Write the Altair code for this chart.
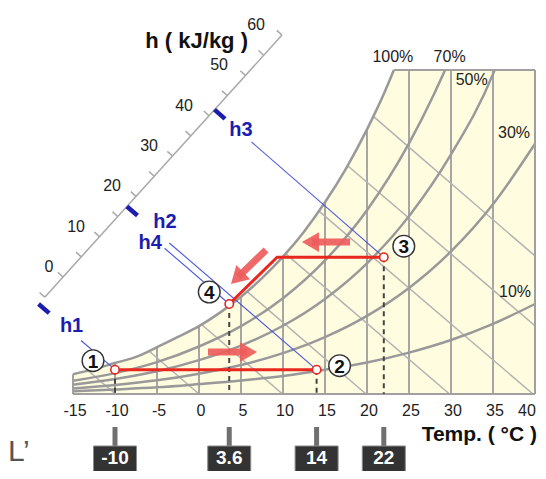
import math
import numpy as np
import pandas as pd
import altair as alt

# ---------------- values ----------------
temp_ticks = [-15, -10, -5, 0, 5, 10, 15, 20, 25, 30, 35, 40]
grid_temps = [-10, -5, 0, 5, 10, 15, 20, 25, 30, 35]
T_LEFT, T_RIGHT, W_TOP = -15, 40, 18.0          # chart box (deg C, g/kg)

# relative-humidity curves: temperature (deg C) -> humidity ratio (g/kg)
sat_T = [-15, -12.5, -10, -7.5, -5, -2.5, 0, 2.5, 5, 7.5, 10, 12.5, 15, 17.5, 20, 21, 22, 23.2]
sat_w = [1.10, 1.38, 1.72, 2.06, 2.60, 3.17, 3.77, 4.52, 5.40, 6.44, 7.63, 9.02, 10.65, 12.52, 14.70, 15.66, 16.67, 18.0]
rh70_T = [-15, -10, -5, 0, 5, 10, 15, 20, 25, 28, 29.3]
rh70_w = [0.74, 1.16, 1.77, 2.64, 3.77, 5.32, 7.42, 10.21, 13.92, 16.68, 18.0]
rh50_T = [-15, -10, -5, 0, 5, 10, 15, 20, 25, 30, 35, 35.2]
rh50_w = [0.52, 0.83, 1.26, 1.88, 2.69, 3.79, 5.28, 7.26, 9.88, 13.31, 17.77, 18.0]
rh30_T = [-15, -10, -5, 0, 5, 10, 15, 20, 25, 30, 35, 40]
rh30_w = [0.31, 0.50, 0.76, 1.13, 1.61, 2.27, 3.16, 4.34, 5.89, 7.92, 10.54, 13.9]
rh10_T = [-15, -10, -5, 0, 5, 10, 15, 20, 25, 30, 35, 40]
rh10_w = [0.15, 0.25, 0.37, 0.55, 0.75, 1.00, 1.35, 1.75, 2.30, 3.00, 3.90, 5.00]
rh_names = ["100%", "70%", "50%", "30%", "10%"]

# constant-enthalpy grid lines (kJ/kg): entry and exit points in the chart
ent_h = [-10, 0, 10, 20, 30, 40, 50, 60]
ent_T_start = [-13.2, -5.95, 0.3, 5.7, 10.3, 14.25, 17.7, 20.75]
ent_w_start = [1.30, 2.39, 3.86, 5.70, 7.80, 10.17, 12.68, 15.42]
ent_T_end = [-9.94, 0.0, 9.94, 19.88, 29.82, 39.76, 40.0, 40.0]
ent_w_end = [0.0, 0.0, 0.0, 0.0, 0.0, 0.0, 3.79, 7.67]

# slanted enthalpy scale: position of h = 0 and change per kJ/kg
H_T0, H_W0 = -16.19, 6.5
H_DT, H_DW = 0.4345, 0.224
h_ticks = list(range(-5, 61, 5))
h_labels = [0, 10, 20, 30, 40, 50, 60]

# process states
state_names = ["1", "2", "3", "4"]
state_T = [-10, 14, 22, 3.6]
state_w = [1.35, 1.35, 7.6, 5.0]
state_h = [-6.7, 17.5, 41.5, 16.2]
knee_T, knee_w = 9.3, 7.6

# arrows (tail -> tip)
arrow_tail_T = [1.07, 17.98, 7.98]
arrow_tail_w = [2.33, 8.44, 8.0]
arrow_tip_T = [6.9, 12.26, 3.81]
arrow_tip_w = [2.33, 8.44, 6.11]

marker_T = [-10, 3.6, 14, 22]
marker_text = ["-10", "3.6", "14", "22"]

# ---------------- layout ----------------
WIDTH, HEIGHT = 530, 463
KX, KY = 8.4, 18.0                      # px per deg C, px per g/kg
T_MIN = T_LEFT - 65 / KX
T_MAX = T_MIN + WIDTH / KX
W_MAX = 386 / KY
W_MIN = W_MAX - HEIGHT / KY

XS = alt.Scale(domain=[T_MIN, T_MAX], nice=False, zero=False)
YS = alt.Scale(domain=[W_MIN, W_MAX], nice=False, zero=False)
FONT = "Liberation Sans"
YELLOW = "#FFFCE0"
GRID = "#a6a6a6"
BLUE_T = "#4a58dc"
BLUE = "#1c1cae"
RED = "#e8281e"


def X(f="T"):
    return alt.X(f"{f}:Q", scale=XS, axis=None)


def Y(f="w"):
    return alt.Y(f"{f}:Q", scale=YS, axis=None)


def shift(T, w, dx, dy):
    return T + dx / KX, w - dy / KY


def P(h):
    return H_T0 + h * H_DT, H_W0 + h * H_DW


def segs(rows):
    return pd.DataFrame(rows, columns=["T", "w", "T2", "w2"])


def rule_layer(df, **kw):
    return alt.Chart(df).mark_rule(**kw).encode(
        x=X("T"), y=Y("w"), x2=alt.X2("T2:Q"), y2=alt.Y2("w2:Q"))


def text_layer(df, **kw):
    return alt.Chart(df).mark_text(font=FONT, **kw).encode(
        x=X("T"), y=Y("w"), text=alt.Text("label:N"))


layers = []

# yellow region under the saturation curve
df_sat = pd.DataFrame({"T": sat_T, "w": sat_w, "zero": 0.0})
layers.append(alt.Chart(df_sat).mark_area(color=YELLOW, interpolate="monotone").encode(
    x=X("T"), y=Y("w"), y2=alt.Y2("zero:Q")))
layers.append(alt.Chart(pd.DataFrame({"T": [sat_T[-1]], "T2": [T_RIGHT], "w": [0.0], "w2": [W_TOP]}))
              .mark_rect(color=YELLOW).encode(x=X("T"), x2=alt.X2("T2:Q"), y=Y("w"), y2=alt.Y2("w2:Q")))

# vertical temperature grid lines up to the saturation curve
tops = np.minimum(np.interp(grid_temps, sat_T, sat_w), W_TOP)
layers.append(rule_layer(segs([(t, 0.0, t, float(top)) for t, top in zip(grid_temps, tops)]),
                         color=GRID, strokeWidth=2))

# constant enthalpy grid lines
layers.append(rule_layer(segs(list(zip(ent_T_start, ent_w_start, ent_T_end, ent_w_end))),
                         color="#b2b2b2", strokeWidth=1.5))

# relative humidity curves
curves = [(sat_T, sat_w), (rh70_T, rh70_w), (rh50_T, rh50_w), (rh30_T, rh30_w), (rh10_T, rh10_w)]
rows = []
for name, (ts, ws) in zip(rh_names, curves):
    for i, (t, w) in enumerate(zip(ts, ws)):
        rows.append({"curve": name, "i": i, "T": t, "w": w})
layers.append(alt.Chart(pd.DataFrame(rows)).mark_line(color="#999999", strokeWidth=2.5, interpolate="monotone")
              .encode(x=X("T"), y=Y("w"), detail="curve:N", order="i:Q"))

# chart frame
layers.append(rule_layer(segs([
    (sat_T[-1], W_TOP, T_RIGHT, W_TOP),
    (T_RIGHT, 0.0, T_RIGHT, W_TOP),
    (T_LEFT, 0.0, T_RIGHT, 0.0),
    (T_LEFT, 0.0, T_LEFT, sat_w[0]),
]), color="#a0a0a0", strokeWidth=2))

# RH labels next to curve ends
rh_off = [(-1, -13), (4.5, -13), (-23, 10), (-21, -11), (-20, -12)]
lab_rows = []
for name, (ts, ws), (dx, dy) in zip(rh_names, curves, rh_off):
    t, w = shift(ts[-1], ws[-1], dx, dy)
    lab_rows.append({"T": t, "w": w, "label": name})
layers.append(text_layer(pd.DataFrame(lab_rows), fontSize=16, color="#222222", baseline="middle"))

# slanted enthalpy axis
a0, a1 = P(h_ticks[0]), P(h_ticks[-1])
layers.append(rule_layer(segs([(a0[0], a0[1], a1[0], a1[1])]), color="#a8a8a8", strokeWidth=1.5))
tick_rows = []
for h in h_ticks:
    pt, pw = P(h)
    qt, qw = shift(pt, pw, -5.2, -4.7)
    tick_rows.append((pt, pw, qt, qw))
layers.append(rule_layer(segs(tick_rows), color="#a8a8a8", strokeWidth=1.5))
h_lab_dx = [-9.5, -14.5, -15, -14.5, -16, -17.5, -17]
hl_rows = []
for h, dx in zip(h_labels, h_lab_dx):
    t, w = shift(*P(h), dx, -10)
    hl_rows.append({"T": t, "w": w, "label": str(h)})
layers.append(text_layer(pd.DataFrame(hl_rows), fontSize=16, color="#222222", align="right", baseline="middle"))
ht, hw = shift(*P(h_ticks[-1]), -34, 6)
layers.append(text_layer(pd.DataFrame([{"T": ht, "w": hw, "label": "h ( kJ/kg )"}]),
                         fontSize=22, fontWeight="bold", color="#111111", align="right", baseline="middle"))

# enthalpy markers h1..h4 with their lines to the states
thin_start = [56, 56, 49, 56]
lab_off = [(33, 22), (38, 16), (26.5, 20.5), (28, 31)]
has_thick = [True, True, True, False]   # h4's mark coincides with h2's
thick_rows, thin_rows, hlab_rows = [], [], []
for i in range(4):
    pt, pw = P(state_h[i])
    st, sw = state_T[i], state_w[i]
    dxp, dyp = (st - pt) * KX, -(sw - pw) * KY
    L = math.hypot(dxp, dyp)
    ux, uy = dxp / L, dyp / L
    if has_thick[i]:
        e = shift(pt, pw, 14 * ux, 14 * uy)
        thick_rows.append((pt, pw, e[0], e[1]))
    s = shift(pt, pw, thin_start[i] * ux, thin_start[i] * uy)
    thin_rows.append((s[0], s[1], st, sw))
    lt, lw = shift(pt, pw, *lab_off[i])
    hlab_rows.append({"T": lt, "w": lw, "label": "h" + state_names[i]})
layers.append(rule_layer(segs(thin_rows), color=BLUE_T, strokeWidth=1.1))
layers.append(rule_layer(segs(thick_rows), color=BLUE, strokeWidth=4.5))
layers.append(text_layer(pd.DataFrame(hlab_rows), fontSize=20, fontWeight="bold", color=BLUE, baseline="middle"))

# dashed drop lines from the states
layers.append(rule_layer(segs([(t, w, t, 0.0) for t, w in zip(state_T, state_w)]),
                         color="#444444", strokeWidth=2, strokeDash=[5, 4]))

# arrows
shaft_rows, head_rows = [], []
for i in range(3):
    tt, tw = arrow_tail_T[i], arrow_tail_w[i]
    pt, pw = arrow_tip_T[i], arrow_tip_w[i]
    dxp, dyp = (pt - tt) * KX, -(pw - tw) * KY
    L = math.hypot(dxp, dyp)
    ux, uy = dxp / L, dyp / L
    se = shift(pt, pw, -10 * ux, -10 * uy)
    shaft_rows.append((tt, tw, se[0], se[1]))
    hc = shift(pt, pw, -8.5 * ux, -8.5 * uy)
    head_rows.append({"T": hc[0], "w": hc[1], "ang": math.degrees(math.atan2(ux, -uy)) % 360})
layers.append(rule_layer(segs(shaft_rows), color="#ee5c5c", strokeWidth=7, opacity=0.92))
layers.append(alt.Chart(pd.DataFrame(head_rows)).mark_point(
    shape="triangle-up", filled=True, size=390, color="#ee5c5c", opacity=0.92).encode(
    x=X("T"), y=Y("w"), angle=alt.Angle("ang:Q", scale=None)))

# red process path
path_rows = [
    {"p": "a", "i": 0, "T": state_T[0], "w": state_w[0]},
    {"p": "a", "i": 1, "T": state_T[1], "w": state_w[1]},
    {"p": "b", "i": 0, "T": state_T[3], "w": state_w[3]},
    {"p": "b", "i": 1, "T": knee_T, "w": knee_w},
    {"p": "b", "i": 2, "T": state_T[2], "w": state_w[2]},
]
layers.append(alt.Chart(pd.DataFrame(path_rows)).mark_line(color=RED, strokeWidth=3).encode(
    x=X("T"), y=Y("w"), detail="p:N", order="i:Q"))

# state markers
df_states = pd.DataFrame({"T": state_T, "w": state_w})
layers.append(alt.Chart(df_states).mark_point(shape="circle", filled=True, fill="white", stroke=RED,
                                               strokeWidth=1.6, size=70, opacity=1).encode(x=X("T"), y=Y("w")))
num_off = [(-22, -9), (23, -4), (20, -11), (-20, -12)]
num_rows = []
for i in range(4):
    t, w = shift(state_T[i], state_w[i], *num_off[i])
    num_rows.append({"T": t, "w": w, "label": state_names[i]})
df_num = pd.DataFrame(num_rows)
layers.append(alt.Chart(df_num).mark_point(shape="circle", filled=True, fill="white", stroke="#333333",
                                            strokeWidth=1.4, size=470, opacity=1).encode(x=X("T"), y=Y("w")))
layers.append(text_layer(df_num, fontSize=19, fontWeight="bold", color="#111111", baseline="middle", dy=1))

# temperature axis labels and title
tl_rows = []
for t in temp_ticks:
    tt, tw = shift(t, 0.0, 2 if t < 40 else -8, 17)
    tl_rows.append({"T": tt, "w": tw, "label": str(t)})
layers.append(text_layer(pd.DataFrame(tl_rows), fontSize=16, color="#222222", baseline="middle"))
tt, tw = shift(T_RIGHT, 0.0, 2, 41)
layers.append(text_layer(pd.DataFrame([{"T": tt, "w": tw, "label": "Temp. ( °C )"}]),
                         fontSize=21, fontWeight="bold", color="#111111", align="right", baseline="middle"))

# temperature markers below the axis
stem_rows, box_rows, btxt_rows = [], [], []
for t, lab in zip(marker_T, marker_text):
    a = shift(t, 0.0, 0, 33)
    b = shift(t, 0.0, 0, 52)
    stem_rows.append((a[0], a[1], b[0], b[1]))
    l = shift(t, 0.0, -21.5, 52)
    r = shift(t, 0.0, 21.5, 80)
    box_rows.append({"T": l[0], "w": l[1], "T2": r[0], "w2": r[1]})
    c = shift(t, 0.0, 0, 64)
    btxt_rows.append({"T": c[0], "w": c[1], "label": lab})
layers.append(rule_layer(segs(stem_rows), color="#707070", strokeWidth=5))
layers.append(alt.Chart(pd.DataFrame(box_rows)).mark_rect(color="#333333", stroke="#8a8a8a", strokeWidth=1).encode(
    x=X("T"), x2=alt.X2("T2:Q"), y=Y("w"), y2=alt.Y2("w2:Q")))
layers.append(text_layer(pd.DataFrame(btxt_rows), fontSize=19, fontWeight="bold", color="white", baseline="middle"))

# cut-off glyph at the bottom left
lt, lw = shift(T_LEFT, 0.0, -65, 67)
layers.append(text_layer(pd.DataFrame([{"T": lt, "w": lw, "label": "L’"}]),
                         fontSize=30, color="#555555", align="left", baseline="alphabetic"))

chart = alt.layer(*layers).properties(
    width=WIDTH, height=HEIGHT, padding=0,
    autosize=alt.AutoSizeParams(type="none"),
    background="white",
).configure_view(stroke=None)

chart.save("out.html", embed_options={"renderer": "svg", "actions": False})
